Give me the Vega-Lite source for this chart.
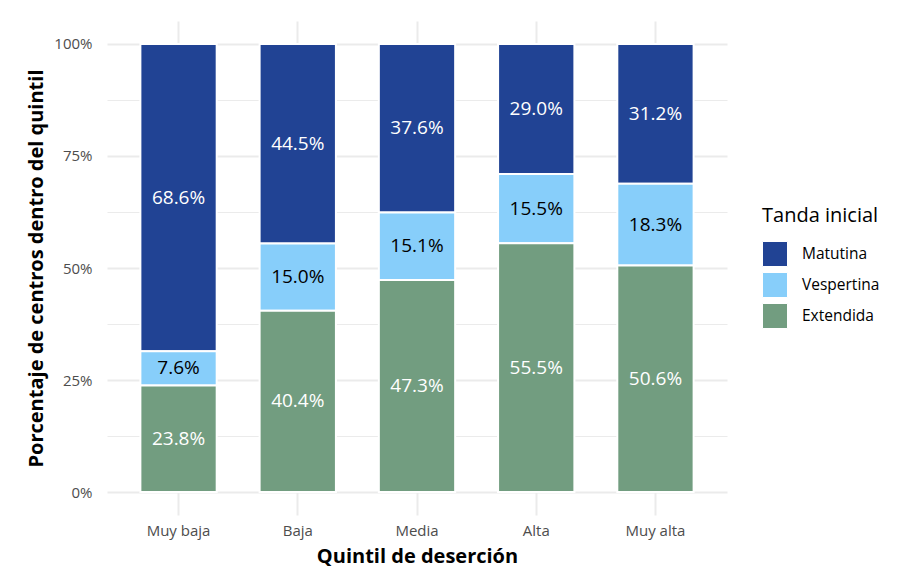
{
  "$schema": "https://vega.github.io/schema/vega-lite/v6.json",
  "width": 620,
  "height": 494,
  "autosize": {"type": "none"},
  "padding": {"left": 107, "top": 21, "right": 172, "bottom": 60},
  "background": "white",
  "config": {
    "font": "Open Sans",
    "view": {"stroke": null},
    "axis": {"gridColor": "#EBEBEB", "domain": false, "ticks": false, "labelColor": "#4D4D4D", "labelFont": "Open Sans", "labelFontSize": 15, "titleFont": "Open Sans", "titleFontSize": 20, "titleFontWeight": "bold", "titleColor": "black"}
  },
  "data": {
    "values": [
      {"quintil": "Muy baja", "tanda": "Matutina", "pct": 68.6},
      {"quintil": "Muy baja", "tanda": "Vespertina", "pct": 7.6},
      {"quintil": "Muy baja", "tanda": "Extendida", "pct": 23.8},
      {"quintil": "Baja", "tanda": "Matutina", "pct": 44.5},
      {"quintil": "Baja", "tanda": "Vespertina", "pct": 15.0},
      {"quintil": "Baja", "tanda": "Extendida", "pct": 40.4},
      {"quintil": "Media", "tanda": "Matutina", "pct": 37.6},
      {"quintil": "Media", "tanda": "Vespertina", "pct": 15.1},
      {"quintil": "Media", "tanda": "Extendida", "pct": 47.3},
      {"quintil": "Alta", "tanda": "Matutina", "pct": 29.0},
      {"quintil": "Alta", "tanda": "Vespertina", "pct": 15.5},
      {"quintil": "Alta", "tanda": "Extendida", "pct": 55.5},
      {"quintil": "Muy alta", "tanda": "Matutina", "pct": 31.2},
      {"quintil": "Muy alta", "tanda": "Vespertina", "pct": 18.3},
      {"quintil": "Muy alta", "tanda": "Extendida", "pct": 50.6}
    ]
  },
  "transform": [
    {"calculate": "indexof(['Extendida','Vespertina','Matutina'], datum.tanda)", "as": "ord"},
    {"stack": "pct", "groupby": ["quintil"], "sort": [{"field": "ord", "order": "ascending"}], "offset": "normalize", "as": ["y0", "y1"]},
    {"calculate": "(datum.y0 + datum.y1) / 2", "as": "ymid"},
    {"calculate": "format(datum.pct, '.1f') + '%'", "as": "etiqueta"}
  ],
  "encoding": {
    "x": {
      "field": "quintil",
      "type": "nominal",
      "sort": ["Muy baja", "Baja", "Media", "Alta", "Muy alta"],
      "scale": {"paddingInner": 0.36, "paddingOuter": 0.28},
      "axis": {"title": "Quintil de deserción", "labelAngle": 0, "labelPadding": 8, "titlePadding": 8, "grid": true, "gridWidth": 2, "bandPosition": 0.5}
    }
  },
  "layer": [
    {
      "mark": {"type": "bar", "stroke": "white", "strokeWidth": 2},
      "encoding": {
        "y": {
          "field": "y0",
          "type": "quantitative",
          "scale": {"domain": [-0.0513, 1.0513], "nice": false, "zero": false},
          "axis": {
            "title": "Porcentaje de centros dentro del quintil",
            "values": [0, 0.125, 0.25, 0.375, 0.5, 0.625, 0.75, 0.875, 1],
            "labelExpr": "(round(datum.value*1000) % 250 == 0) ? format(datum.value, '.0%') : ''",
            "gridWidth": {"condition": {"test": "round(datum.value*1000) % 250 == 0", "value": 2}, "value": 1},
            "labelPadding": 15,
            "titlePadding": 7
          }
        },
        "y2": {"field": "y1"},
        "color": {
          "field": "tanda",
          "type": "nominal",
          "scale": {"domain": ["Matutina", "Vespertina", "Extendida"], "range": ["#214394", "#87CEFA", "#729D80"]},
          "legend": {
            "title": "Tanda inicial",
            "orient": "none",
            "legendX": 655,
            "legendY": 185,
            "titleFontSize": 20,
            "titleFontWeight": "normal",
            "titleColor": "black",
            "titlePadding": 15,
            "labelFontSize": 15.5,
            "labelColor": "black",
            "labelOffset": 14,
            "symbolType": "square",
            "symbolSize": 625,
            "symbolStrokeColor": "white",
            "symbolStrokeWidth": 1,
            "symbolOpacity": 1,
            "rowPadding": 1
          }
        }
      }
    },
    {
      "mark": {"type": "text", "fontSize": 19, "font": "Open Sans"},
      "encoding": {
        "y": {"field": "ymid", "type": "quantitative"},
        "text": {"field": "etiqueta"},
        "fill": {"condition": {"test": "datum.tanda === 'Vespertina'", "value": "black"}, "value": "white"}
      }
    }
  ]
}
